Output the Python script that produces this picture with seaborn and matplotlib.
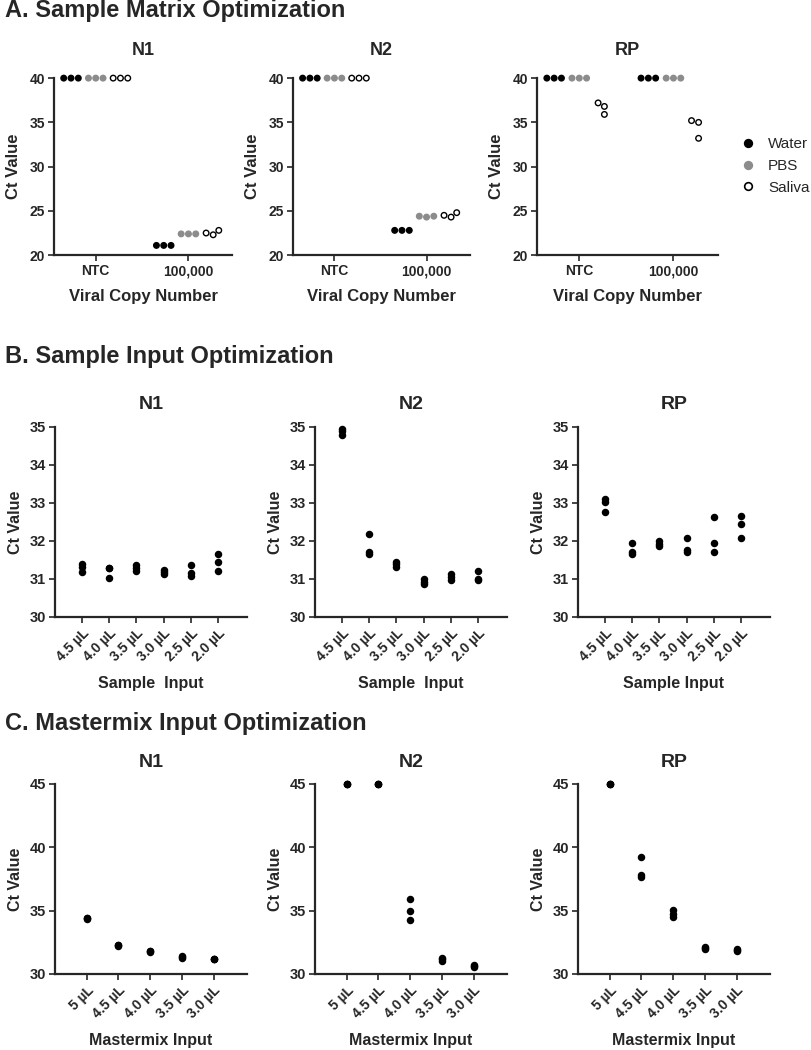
import matplotlib
matplotlib.use('Agg')
import matplotlib.pyplot as plt
import pandas as pd
import seaborn as sns
from matplotlib.lines import Line2D

# A. Sample Matrix Optimization  (replicates for [NTC, 100,000])
copy_numbers = ['NTC', '100,000']
matrices = ['Water', 'PBS', 'Saliva']
n1_water = [[40, 40, 40], [21.1, 21.1, 21.1]]
n1_pbs = [[40, 40, 40], [22.4, 22.4, 22.4]]
n1_saliva = [[40, 40, 40], [22.3, 22.8, 22.5]]
n2_water = [[40, 40, 40], [22.8, 22.8, 22.8]]
n2_pbs = [[40, 40, 40], [24.3, 24.4, 24.4]]
n2_saliva = [[40, 40, 40], [24.3, 24.8, 24.5]]
rp_water = [[40, 40, 40], [40, 40, 40]]
rp_pbs = [[40, 40, 40], [40, 40, 40]]
rp_saliva = [[37.2, 36.8, 35.9], [35.2, 35.0, 33.2]]

# B. Sample Input Optimization
sample_inputs = ['4.5 µL', '4.0 µL', '3.5 µL', '3.0 µL', '2.5 µL', '2.0 µL']
b_n1 = [[31.39, 31.32, 31.18], [31.3, 31.28, 31.03], [31.38, 31.3, 31.22],
        [31.23, 31.18, 31.14], [31.38, 31.17, 31.08], [31.65, 31.45, 31.21]]
b_n2 = [[34.95, 34.9, 34.78], [32.17, 31.71, 31.67], [31.45, 31.4, 31.32],
        [31.0, 30.93, 30.87], [31.14, 31.05, 30.98], [31.2, 30.99, 30.97]]
b_rp = [[33.11, 33.03, 32.76], [31.95, 31.71, 31.65], [31.99, 31.93, 31.86],
        [32.07, 31.76, 31.72], [32.63, 31.95, 31.7], [32.65, 32.44, 32.09]]

# C. Mastermix Input Optimization
mastermix_inputs = ['5 µL', '4.5 µL', '4.0 µL', '3.5 µL', '3.0 µL']
c_n1 = [[34.3, 34.4, 34.45], [32.2, 32.25, 32.3], [31.75, 31.8, 31.85],
        [31.3, 31.35, 31.4], [31.15, 31.2, 31.2]]
c_n2 = [[45, 45, 45], [45, 45, 45], [35.92, 34.95, 34.29],
        [31.25, 31.15, 31.05], [30.7, 30.65, 30.55]]
c_rp = [[45, 45, 45], [39.21, 37.84, 37.63], [35.03, 34.75, 34.47],
        [32.05, 32.1, 32.0], [32.0, 31.9, 31.8]]

matrix_colors = {'Water': 'black', 'PBS': '#8c8c8c', 'Saliva': 'white'}

sns.set_style('ticks')
plt.rcParams['font.family'] = ['Liberation Sans', 'DejaVu Sans']
plt.rcParams['font.weight'] = 'bold'
plt.rcParams['axes.labelweight'] = 'bold'
plt.rcParams['axes.titleweight'] = 'bold'


def matrix_df(water, pbs, saliva):
    rows = []
    for mat, vals in zip(matrices, [water, pbs, saliva]):
        for copy, reps in zip(copy_numbers, vals):
            for v in reps:
                rows.append({'copies': copy, 'matrix': mat, 'ct': v})
    return pd.DataFrame(rows)


def input_df(labels, vals):
    rows = []
    for lab, reps in zip(labels, vals):
        for v in reps:
            rows.append({'input': lab, 'ct': v})
    return pd.DataFrame(rows)


def style_axis(ax, tick_size):
    sns.despine(ax=ax)
    for s in ['left', 'bottom']:
        ax.spines[s].set_linewidth(1.6)
    ax.tick_params(direction='out', length=4.5, width=1.2, labelsize=tick_size, pad=2)
    for c in ax.collections:
        c.set_clip_on(False)


fig = plt.figure(figsize=(8.11, 10.5), dpi=100)

# ---- row A ----
lefts_a = [0.0666, 0.3613, 0.662]
widths_a = [0.2195, 0.218, 0.223]
panels_a = [('N1', n1_water, n1_pbs, n1_saliva),
            ('N2', n2_water, n2_pbs, n2_saliva),
            ('RP', rp_water, rp_pbs, rp_saliva)]
for (name, w, p, s), l, wd in zip(panels_a, lefts_a, widths_a):
    ax = fig.add_axes([l, 0.757, wd, 0.1686])
    df = matrix_df(w, p, s)
    sns.swarmplot(data=df, x='copies', y='ct', hue='matrix', order=copy_numbers,
                  hue_order=matrices, palette=matrix_colors, dodge=True,
                  size=4.0, linewidth=1.0, edgecolor='black', legend=False, ax=ax)
    for c in ax.collections:
        fc = c.get_facecolor()
        if len(fc) and fc[0][0] < 0.9:
            c.set_edgecolor(fc)
    ax.set_ylim(20, 40)
    ax.set_yticks([20, 25, 30, 35, 40])
    ax.set_xlim(-0.45, 1.47)
    ax.set_title(name, fontsize=13, pad=17)
    ax.set_xlabel('Viral Copy Number', fontsize=12, labelpad=8)
    ax.set_ylabel('Ct Value', fontsize=12, labelpad=6)
    style_axis(ax, 10)

handles = [Line2D([], [], marker='o', linestyle='', markersize=5.5,
                  markerfacecolor=matrix_colors[m],
                  markeredgecolor='black' if m != 'PBS' else matrix_colors[m],
                  markeredgewidth=1.2) for m in matrices]
fig.legend(handles, matrices, loc='center left', bbox_to_anchor=(0.9, 0.842),
           frameon=False, prop={'weight': 'normal', 'size': 11},
           handletextpad=0.8, labelspacing=0.5, handlelength=1.0, borderpad=0.2)

# ---- rows B and C ----
lefts_bc = [0.0678, 0.3884, 0.7127]
width_bc = 0.2362
panels_b = [('N1', b_n1, 'Sample  Input'), ('N2', b_n2, 'Sample  Input'),
            ('RP', b_rp, 'Sample Input')]
panels_c = [('N1', c_n1), ('N2', c_n2), ('RP', c_rp)]

for (name, vals, xlab), l in zip(panels_b, lefts_bc):
    ax = fig.add_axes([l, 0.4124, width_bc, 0.181])
    df = input_df(sample_inputs, vals)
    sns.stripplot(data=df, x='input', y='ct', order=sample_inputs, color='black',
                  jitter=False, size=5.4, ax=ax)
    ax.set_ylim(30, 35)
    ax.set_yticks([30, 31, 32, 33, 34, 35])
    ax.set_xlim(-1, len(sample_inputs) + 0.06)
    ax.set_title(name, fontsize=14, pad=13)
    ax.set_xlabel(xlab, fontsize=11.5, labelpad=9)
    ax.set_ylabel('Ct Value', fontsize=11.5, labelpad=5)
    style_axis(ax, 10.5)
    plt.setp(ax.get_xticklabels(), rotation=45, ha='right', rotation_mode='anchor',
             fontsize=10)

for (name, vals), l in zip(panels_c, lefts_bc):
    ax = fig.add_axes([l, 0.0724, width_bc, 0.181])
    df = input_df(mastermix_inputs, vals)
    sns.stripplot(data=df, x='input', y='ct', order=mastermix_inputs, color='black',
                  jitter=False, size=5.4, ax=ax)
    ax.set_ylim(30, 45)
    ax.set_yticks([30, 35, 40, 45])
    ax.set_xlim(-1, len(mastermix_inputs) + 0.04)
    ax.set_title(name, fontsize=14, pad=12)
    ax.set_xlabel('Mastermix Input', fontsize=11.5, labelpad=9)
    ax.set_ylabel('Ct Value', fontsize=11.5, labelpad=5)
    style_axis(ax, 10.5)
    plt.setp(ax.get_xticklabels(), rotation=45, ha='right', rotation_mode='anchor',
             fontsize=10)

# section headings
fig.text(0.006, 0.990, 'A. Sample Matrix Optimization', fontsize=17, va='center')
fig.text(0.006, 0.660, 'B. Sample Input Optimization', fontsize=17, va='center')
fig.text(0.006, 0.311, 'C. Mastermix Input Optimization', fontsize=17, va='center')

fig.savefig('out.png', dpi=100)
